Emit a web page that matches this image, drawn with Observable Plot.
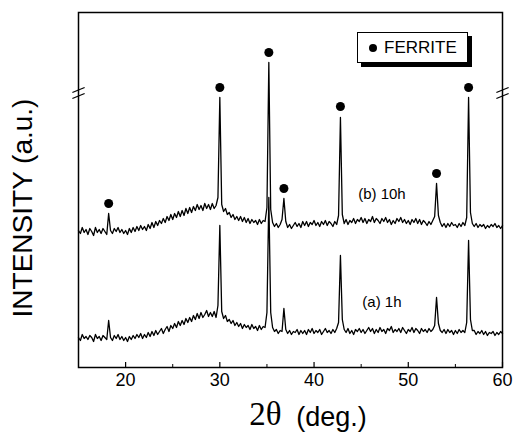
<!DOCTYPE html>
<html><head><meta charset="utf-8">
<script src="https://cdn.jsdelivr.net/npm/d3@7"></script>
<script src="https://cdn.jsdelivr.net/npm/@observablehq/plot@0.6"></script>
<style>
body{margin:0;background:#fff;}
#wrap{position:relative;width:513px;height:434px;font-family:"Liberation Sans",Arial,sans-serif;}
#legend{position:absolute;left:357px;top:32px;width:109px;height:29px;border:1.5px solid #000;box-shadow:4px 4px 0 #000;background:#fff;display:flex;align-items:center;font-size:17px;color:#000;}
#legend .dot{display:inline-block;width:8px;height:8px;border-radius:50%;background:#000;margin-left:11px;margin-right:7px;}
</style></head>
<body><div id="wrap"></div>
<script>
// 2θ grid: 15° to 60° in 0.2° steps
const angleStart = 15, angleStep = 0.2;
// (a) 1h trace, arbitrary units
const intensityA = [
30,27,33,29,31, 28,32,30,26,33, 29,31,27,32,30, 28,47,30,27,32, 29,33,28,31,27,
30,26,31,28,32, 29,33,30,34,29, 33,30,35,31,36, 32,37,33,36,39, 34,38,41,36,42,
39,44,40,46,42, 47,43,49,45,50, 46,52,48,54,49, 55,50,53,57,51, 55,51,56,50,62,
142,56,49,52,46, 48,44,47,42,45, 41,44,39,43,40, 42,38,43,39,41, 37,42,38,41,40,
55,170,55,40,36, 38,34,37,36,59, 38,34,37,33,36, 35,38,33,37,34, 37,33,38,35,39,
34,37,35,38,33, 36,39,35,37,34, 38,35,39,45,112, 48,38,35,39,34, 37,33,38,36,39,
35,38,34,37,40, 36,39,34,38,35, 40,36,38,34,39, 37,41,35,38,36, 39,35,40,37,34,
38,36,40,35,39, 37,34,39,36,38, 35,39,36,38,42, 70,44,37,35,38, 34,38,35,37,33,
37,34,38,35,37, 35,45,127,48,37, 37,33,36,34,37, 33,36,32,35,34, 36,32,35,33,36,
34
];
// (b) 10h trace, arbitrary units
const intensityB = [
137,134,140,135,138, 133,139,136,132,140, 135,138,134,139,136, 133,154,137,134,139, 136,140,135,138,134,
137,133,139,135,140, 136,141,137,142,138, 141,137,143,139,145, 140,146,142,147,144, 149,145,151,147,153,
148,154,150,156,151, 157,152,159,154,160, 155,161,157,163,158, 162,157,164,159,163, 158,164,159,162,170,
270,163,156,159,153, 155,150,153,148,151, 147,151,146,150,145, 149,144,148,145,147, 143,148,144,147,146,
160,305,158,145,141, 144,140,143,148,169, 146,140,143,139,142, 145,141,144,140,146, 142,146,141,145,143,
147,142,145,141,146, 143,147,142,146,144, 141,146,143,152,250, 153,144,148,143,147, 145,149,144,148,146,
150,145,149,144,148, 146,151,145,149,147, 144,149,146,150,145, 148,143,147,144,149, 146,150,145,148,144,
147,143,148,145,149, 144,148,143,147,145, 142,146,143,147,151, 184,152,145,141,144, 140,144,141,145,142,
143,140,144,141,145, 142,150,270,155,144, 141,144,140,143,141, 143,139,142,140,143, 141,144,140,142,139,
142
];
// ferrite markers
const markerAngles  = [18.2, 30.0, 35.2, 36.8, 42.8, 53.0, 56.4];
const markerHeights = [164, 280, 315, 179, 261, 194, 280];
// sample labels
const sampleLabels  = ["(b) 10h", "(a) 1h"];
const labelAngles   = [47.2, 47.2];
const labelHeights  = [173, 65];
// axes
const xTicks = [20, 30, 40, 50, 60];
const xMinorTicks = [25, 35, 45, 55];
const axisBreakHeight = 274;

const rowsA = intensityA.map((v, i) => ({angle: angleStart + i * angleStep, v}));
const rowsB = intensityB.map((v, i) => ({angle: angleStart + i * angleStep, v}));
const markers = markerAngles.map((a, i) => ({angle: a, h: markerHeights[i]}));
const labels = sampleLabels.map((t, i) => ({t, angle: labelAngles[i], h: labelHeights[i]}));
const breaks = [];
for (const xb of [15, 60]) {
  breaks.push({x1: xb - 0.65, y1: axisBreakHeight + 1, x2: xb + 0.65, y2: axisBreakHeight + 6});
  breaks.push({x1: xb - 0.65, y1: axisBreakHeight - 5, x2: xb + 0.65, y2: axisBreakHeight});
}

const chart = Plot.plot({
  width: 513, height: 434,
  marginLeft: 78, marginRight: 11, marginTop: 12, marginBottom: 67,
  style: {fontFamily: "'Liberation Sans', Arial, sans-serif", fontSize: "18px", color: "#000", background: "#fff"},
  x: {domain: [15, 60], ticks: xTicks, tickSize: 0, tickPadding: 6, label: null},
  y: {domain: [0, 355], axis: null},
  marks: [
    Plot.line(rowsA, {x: "angle", y: "v", stroke: "#000", strokeWidth: 1.3}),
    Plot.line(rowsB, {x: "angle", y: "v", stroke: "#000", strokeWidth: 1.3}),
    Plot.dot(markers, {x: "angle", y: "h", r: 4.5, fill: "#000", stroke: "none"}),
    Plot.text(labels, {x: "angle", y: "h", text: "t", fontSize: 15, fill: "#000"}),
    Plot.ruleX(xTicks, {x: d => d, y1: 0, y2: 5, stroke: "#000", strokeWidth: 1.2}),
    Plot.ruleX(xMinorTicks, {x: d => d, y1: 0, y2: 3, stroke: "#000", strokeWidth: 1}),
    Plot.frame({stroke: "#000", strokeWidth: 1.5}),
    Plot.link(breaks, {x1: "x1", y1: "y1", x2: "x2", y2: "y2", stroke: "#000", strokeWidth: 1.3}),
    Plot.text(["INTENSITY (a.u.)"], {frameAnchor: "left", textAnchor: "middle", dx: -55, dy: 18, rotate: -90, fontSize: 28, fill: "#000"}),
    Plot.text(["2θ"], {frameAnchor: "bottom", textAnchor: "middle", dx: -25, dy: 47, lineAnchor: "middle", fontSize: 33, fontFamily: "'Liberation Serif', serif", fill: "#000"}),
    Plot.text(["(deg.)"], {frameAnchor: "bottom", textAnchor: "middle", dx: 41, dy: 50, lineAnchor: "middle", fontSize: 27, fill: "#000"})
  ]
});
const wrap = document.getElementById("wrap");
wrap.appendChild(chart);
const legend = document.createElement("div");
legend.id = "legend";
legend.innerHTML = '<span class="dot"></span><span>FERRITE</span>';
wrap.appendChild(legend);
</script>
</body></html>
